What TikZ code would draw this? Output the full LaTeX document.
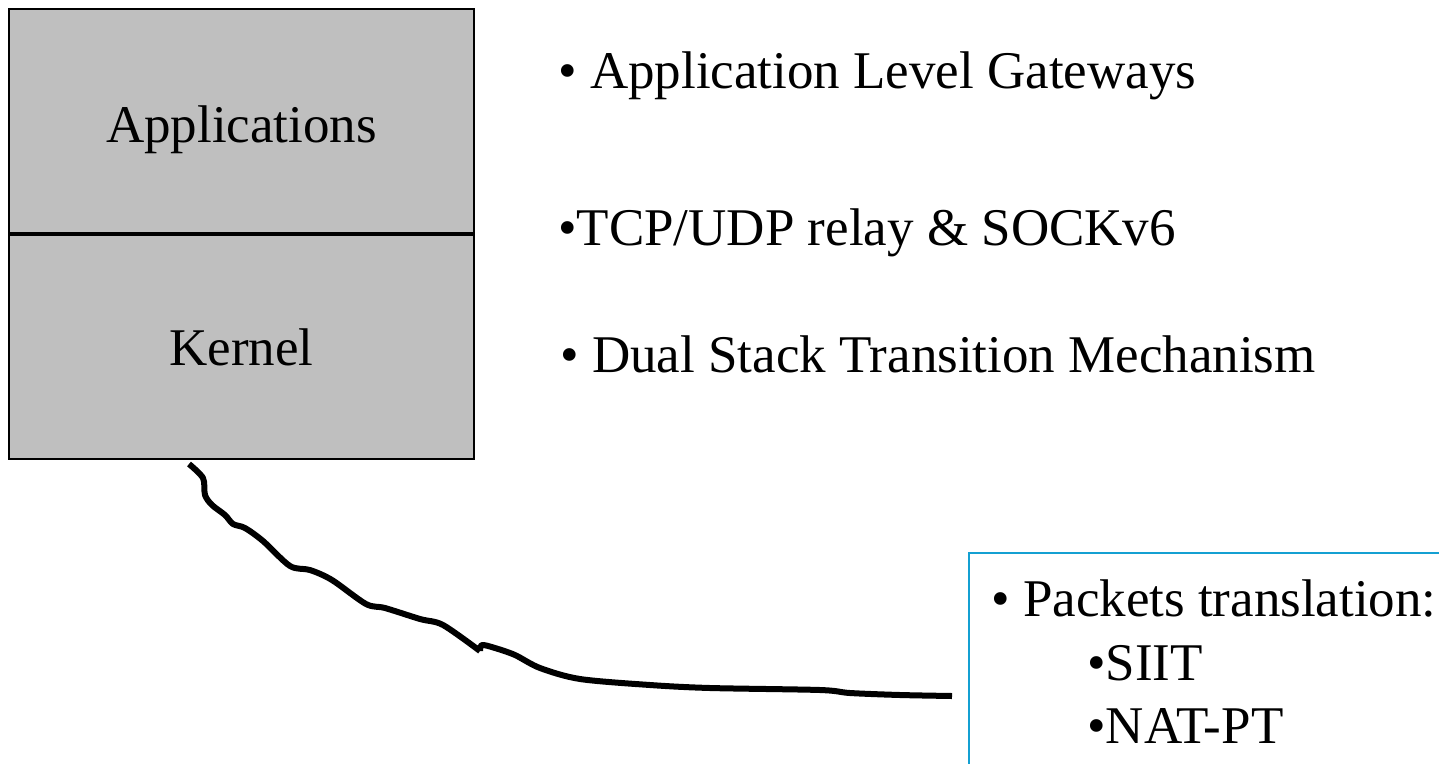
\documentclass[tikz,border=0pt]{standalone}
\usepackage{fontspec}
\setmainfont{Liberation Serif}
\definecolor{frameblue}{RGB}{20,160,210}
\newcommand\BigText{\fontsize{53}{62}\selectfont}
\tikzset{
    layer/.style={draw,line width=2pt,fill=gray!50,minimum width=465pt,minimum height=224pt,inner sep=0pt},
    item/.style={anchor=base west,inner sep=0pt,font=\BigText},
    label/.style={anchor=base,inner sep=0pt,font=\BigText},
}

\begin{document}
\begin{tikzpicture}[x=1pt,y=-1pt]
    \useasboundingbox (0,0) rectangle (1439,763);
    % stack
    \node[layer] (apps) at (241.5,121) {};
    \node[layer,anchor=north] (kernel) at (apps.south) {};
    \node[label] (appstext) at (241.5,142) {Applications};
    \node[label] (kerneltext) at (241.5,365) {Kernel};
    % mechanisms
    \node[item] (alg) at (558,88) {• Application Level Gateways};
    \node[item] (relay) at (558,245) {•TCP/UDP relay \& SOCKv6};
    \node[item] (dstm) at (560,372) {• Dual Stack Transition Mechanism};
    \begin{scope}[color=frameblue] % translation box
        \draw[line width=2pt] (1450,553) -- (969,553) -- (969,775);
    \end{scope}
    \node[item] (packets) at (991,616) {• Packets translation:};
    \node[item] (siit) at (1087,680) {•SIIT};
    \node[item] (natpt) at (1087,743) {•NAT-PT};
    % wavy link
    \coordinate (linkstart) at ([shift={(-52.5,4)}]kernel.south);
    \coordinate (linkend) at (952,696);
    \draw[line width=6pt,line join=round]
        plot[smooth,tension=0.5] coordinates {(linkstart) (203,478) (205,495) (212,505) (225,515)
        (233,524) (245,528) (263,541) (290,566) (310,570) (332,580) (366,604) (385,608)
        (420,619) (443,625) (480,651)}
        plot[smooth,tension=0.5] coordinates {(480,651) (482,645) (495,648) (515,655) (540,668)
        (580,679) (650,685) (710,688) (820,690) (850,693) (900,695) (linkend)};
\end{tikzpicture}
\end{document}
